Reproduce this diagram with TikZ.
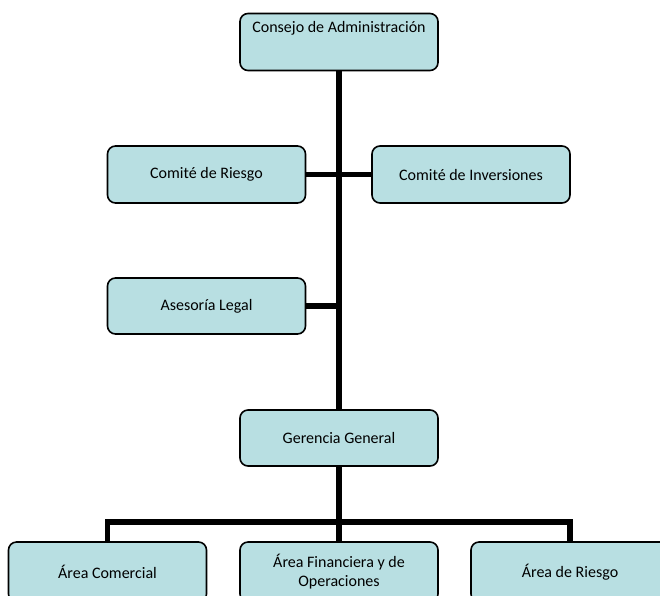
\documentclass[tikz,border=0pt]{standalone}
\usepackage{fontspec}
\setmainfont{Carlito}
\definecolor{boxfill}{RGB}{184,223,226}
\begin{document}
\begin{tikzpicture}[x=1pt,y=-1pt,
  orgbox/.style={draw=black, line width=1.6pt, fill=boxfill, rounded corners=8pt,
    minimum width=198pt, minimum height=57pt, inner sep=0pt, align=center,
    font=\fontsize{16}{19}\selectfont},
  txt/.style={inner sep=0pt, align=center, font=\fontsize{16}{19}\selectfont},
  conn/.style={line width=5.5pt}]
\clip (0,0) rectangle (660,595);
\useasboundingbox (0,0) rectangle (660,595);
\node[orgbox] (consejo) at (339,42) {};
\node[txt, anchor=base] (consejotxt) at ([yshift=-20pt]consejo.north) {Consejo de Administración};
\node[orgbox] (criesgo) at (206.5,174.5) {Comité de Riesgo};
\node[orgbox] (cinv) at (471,174.5) {Comité de Inversiones};
\node[orgbox, minimum height=56pt] (legal) at (206.5,306) {Asesoría Legal};
\node[orgbox, minimum height=56pt] (gerencia) at (339,438) {Gerencia General};
\node[orgbox, minimum height=60pt] (comercial) at (107.5,572) {Área Comercial};
\node[orgbox, minimum height=60pt] (financiera) at (339,572) {Área Financiera y de\\Operaciones};
\node[orgbox, minimum height=60pt] (ariesgo) at (570,572) {Área de Riesgo};
\coordinate (junction) at (339,522);
\draw[conn] (consejo.south) -- (gerencia.north);
\draw[conn] (criesgo.east) -- (cinv.west);
\draw[conn] (legal.east) -- (legal.east -| gerencia.north);
\draw[conn] (gerencia.south) -- (junction);
\draw[conn] (comercial.north) |- (junction) -| (ariesgo.north);
\draw[conn] (junction) -- (financiera.north);
\end{tikzpicture}
\end{document}
